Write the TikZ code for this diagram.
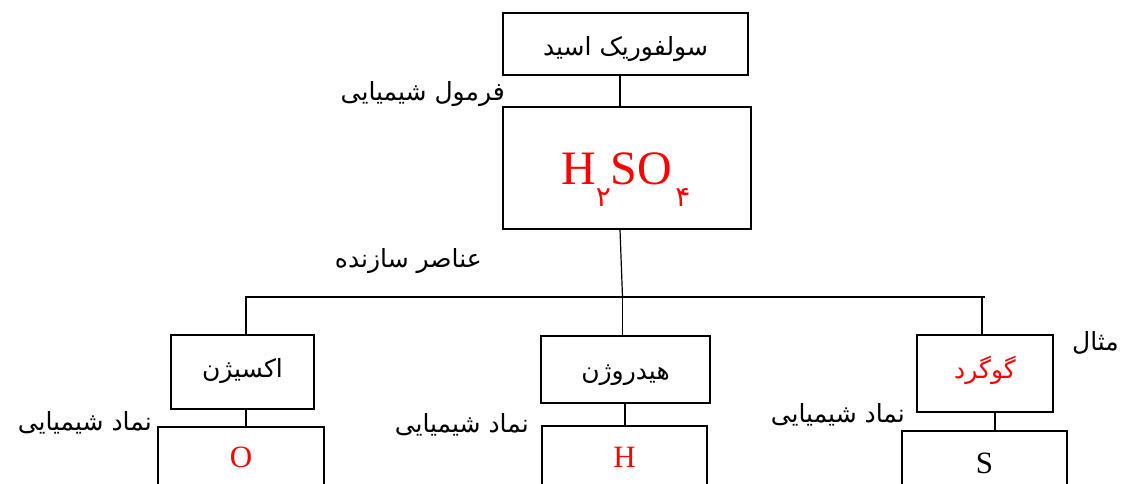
\documentclass[tikz,border=0pt]{standalone}
\usepackage{fontspec}
\setmainfont{Liberation Serif}
\newfontfamily\fa[Script=Arabic]{DejaVu Sans}
\TeXXeTstate=1
\begin{document}
\begin{tikzpicture}[x=1pt,y=-1pt,
  box/.style={draw,line width=1.2pt,inner sep=0pt},
  conn/.style={line width=1.2pt},
  fat/.style={font=\fontsize{25}{28}\fa,text depth=0pt},
  lab/.style={font=\fontsize{25}{28}\fa,anchor=base east,inner sep=0pt},
  lat/.style={font=\fontsize{31}{32}\selectfont}]
\useasboundingbox (0,0) rectangle (1124,483);
\clip (0,0) rectangle (1124,483);
% boxes
\node[box,minimum width=245pt,minimum height=62pt,fat,text height=22pt] (top) at (625.5,44) {\beginR سولفوریک اسید\endR};
\node[box,minimum width=248pt,minimum height=122pt] (formula) at (627,168) {};
\node[anchor=base west,inner sep=0pt,text=red,font=\fontsize{48}{50}\selectfont] (fml) at (561,184)
  {H\raisebox{-22pt}{\fontsize{28}{28}\fa ۲}SO\hspace{3pt}\raisebox{-22pt}{\fontsize{28}{28}\fa ۴}};
\node[box,minimum width=143pt,minimum height=74pt,fat,text height=10pt] (oxy) at (242.5,372) {\beginR اکسیژن\endR};
\node[box,minimum width=166pt,minimum height=60pt,lat,text=red] (osym) at (241,457) {O};
\node[box,minimum width=169pt,minimum height=67pt,fat,text height=19pt] (hyd) at (625.5,369.5) {\beginR هیدروژن\endR};
\node[box,minimum width=165pt,minimum height=62pt,lat,text=red] (hsym) at (624.5,457) {H};
\node[box,minimum width=136pt,minimum height=77pt,fat,text height=9pt,text=red] (sul) at (985,373.5) {\beginR گوگرد\endR};
\node[box,minimum width=165pt,minimum height=64pt,lat] (ssym) at (984.5,463) {S};
% labels
\node[lab] (l1) at (505,100) {\beginR فرمول شیمیایی\endR};
\node[lab] (l2) at (482,267) {\beginR عناصر سازنده\endR};
\node[lab] (l3) at (152,430) {\beginR نماد شیمیایی\endR};
\node[lab] (l4) at (529,432) {\beginR نماد شیمیایی\endR};
\node[lab] (l5) at (905,422) {\beginR نماد شیمیایی\endR};
\node[lab] (l6) at (1119,350) {\beginR مثال\endR};
% connectors
\coordinate (bL) at (245,297);
\coordinate (bR) at (985,297);
\coordinate (dL) at (246,297);
\coordinate (bM) at (622.5,297);
\coordinate (dR) at (982,297);
\coordinate (tx) at (620,0);
\coordinate (ox) at (246,0);
\coordinate (hx) at (625,0);
\coordinate (sx) at (995,0);
\draw[conn] (top.south -| tx) -- (formula.north -| tx);
\draw[conn] (formula.south -| tx) -- (bM);
\draw[conn] (bL) -- (bR);
\draw[conn] (dL) -- (oxy.north -| dL);
\draw[conn] (bM) -- (hyd.north -| bM);
\draw[conn] (dR) -- (sul.north -| dR);
\draw[conn] (oxy.south -| ox) -- (osym.north -| ox);
\draw[conn] (hyd.south -| hx) -- (hsym.north -| hx);
\draw[conn] (sul.south -| sx) -- (ssym.north -| sx);
\end{tikzpicture}
\end{document}
